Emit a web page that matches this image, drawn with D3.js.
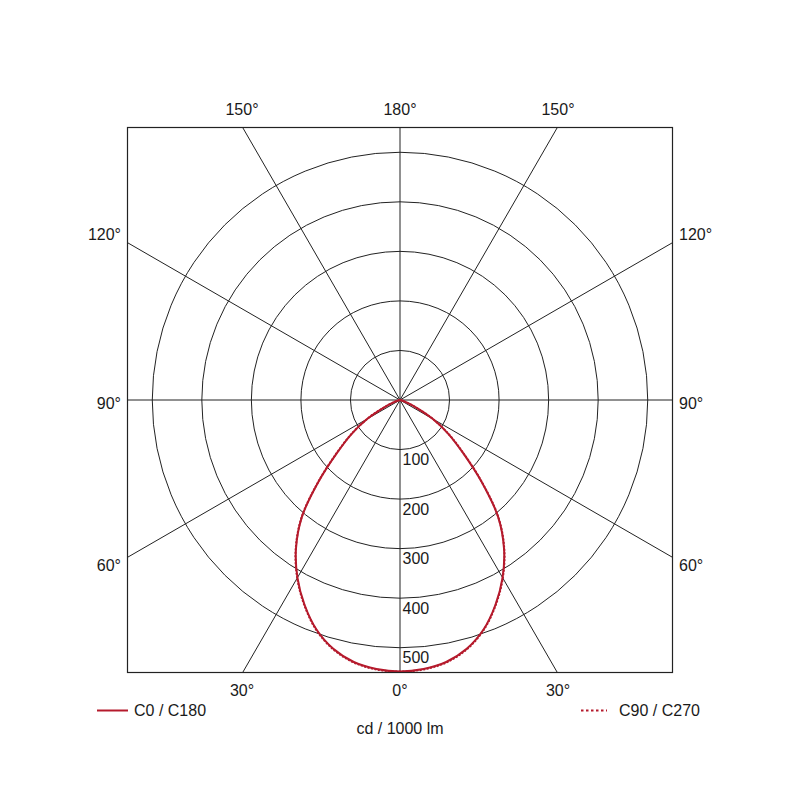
<!DOCTYPE html>
<html>
<head>
<meta charset="utf-8">
<script src="https://cdn.jsdelivr.net/npm/d3@7"></script>
<style>
  body { margin: 0; background: #fff; }
  text { font-family: "Liberation Sans", Arial, sans-serif; fill: #1a1a1a; }
</style>
</head>
<body>
<svg id="chart" width="800" height="800"></svg>
<script>
// gamma angles (deg, 0 = straight down) and intensities in cd / 1000 lm
const angles = [0, 5, 10, 15, 20, 25, 30, 35, 40, 45, 50, 55, 60, 65, 70, 75, 80, 85, 90]
const c0 = [548, 545, 537, 520, 493, 456, 414, 366, 308, 232, 166, 119, 76, 36, 13, 4, 1, 0, 0]
const c180 = [548, 545, 537, 520, 493, 456, 414, 366, 308, 232, 166, 119, 76, 36, 13, 4, 1, 0, 0]
const c90 = [548, 546, 538, 521, 494, 457, 415, 367, 309, 233, 167, 120, 77, 37, 13, 4, 1, 0, 0]
const c270 = [548, 546, 538, 521, 494, 457, 415, 367, 309, 233, 167, 120, 77, 37, 13, 4, 1, 0, 0]

const ringValues = [100, 200, 300, 400, 500]
const spokeAngles = [0, 30, 60, 90, 120, 150]

const redColor = "#b51a2c"

let svg = d3.select("#chart")

let frame = { left: 127.5, top: 127.5, size: 545 }
let cx = frame.left + frame.size / 2
let cy = frame.top + frame.size / 2

// frame edge = 550 cd
let r = d3.scaleLinear().domain([0, 550]).range([0, frame.size / 2])

svg.append("defs").append("clipPath")
    .attr("id", "frameclip")
    .append("rect")
    .attr("x", frame.left)
    .attr("y", frame.top)
    .attr("width", frame.size)
    .attr("height", frame.size)

let grid = svg.append("g")
    .attr("clip-path", "url(#frameclip)")

// rings
grid.selectAll("circle.ring")
    .data(ringValues)
    .join("circle")
    .attr("class", "ring")
    .attr("cx", cx)
    .attr("cy", cy)
    .attr("r", d => r(d))
    .attr("fill", "none")
    .attr("stroke", "#222")
    .attr("stroke-width", 1)

// spokes through centre, every 30 deg
grid.selectAll("line.spoke")
    .data(spokeAngles)
    .join("line")
    .attr("class", "spoke")
    .attr("x1", d => cx - 600 * Math.sin(d * Math.PI / 180))
    .attr("y1", d => cy + 600 * Math.cos(d * Math.PI / 180))
    .attr("x2", d => cx + 600 * Math.sin(d * Math.PI / 180))
    .attr("y2", d => cy - 600 * Math.cos(d * Math.PI / 180))
    .attr("stroke", "#222")
    .attr("stroke-width", 1)

// ring value labels
svg.selectAll("text.ringlabel")
    .data(ringValues)
    .join("text")
    .attr("class", "ringlabel")
    .attr("x", cx + 2.5)
    .attr("y", d => cy + r(d) + 15.5)
    .attr("font-size", 16)
    .text(d => d)

// curves: left half uses C0 / C90, right half C180 / C270
function halfPoints(left, right) {
    let pts = []
    for (let i = angles.length - 1; i >= 0; i--) pts.push([Math.PI + angles[i] * Math.PI / 180, r(left[i])])
    for (let i = 1; i < angles.length; i++) pts.push([Math.PI - angles[i] * Math.PI / 180, r(right[i])])
    return pts
}

let radial = d3.lineRadial()
    .angle(d => d[0])
    .radius(d => d[1])
    .curve(d3.curveCatmullRom)

let curves = svg.append("g")
    .attr("transform", "translate(" + cx + "," + cy + ")")

curves.append("path")
    .attr("d", radial(halfPoints(c90, c270)))
    .attr("fill", "none")
    .attr("stroke", redColor)
    .attr("stroke-width", 2)
    .attr("stroke-dasharray", "2,1.5")

curves.append("path")
    .attr("d", radial(halfPoints(c0, c180)))
    .attr("fill", "none")
    .attr("stroke", redColor)
    .attr("stroke-width", 2)

// frame
svg.append("rect")
    .attr("x", frame.left)
    .attr("y", frame.top)
    .attr("width", frame.size)
    .attr("height", frame.size)
    .attr("fill", "none")
    .attr("stroke", "#222")
    .attr("stroke-width", 1.2)

// angle labels
let topLabels = [["150°", 242], ["180°", 400], ["150°", 558]]
let bottomLabels = [["30°", 242], ["0°", 400], ["30°", 558]]
let sideLabels = [["120°", 240], ["90°", 409], ["60°", 571]]

svg.selectAll("text.toplabel")
    .data(topLabels)
    .join("text")
    .attr("class", "toplabel")
    .attr("x", d => d[1])
    .attr("y", 115)
    .attr("text-anchor", "middle")
    .attr("font-size", 16)
    .text(d => d[0])

svg.selectAll("text.bottomlabel")
    .data(bottomLabels)
    .join("text")
    .attr("class", "bottomlabel")
    .attr("x", d => d[1])
    .attr("y", 696)
    .attr("text-anchor", "middle")
    .attr("font-size", 16)
    .text(d => d[0])

svg.selectAll("text.leftlabel")
    .data(sideLabels)
    .join("text")
    .attr("class", "leftlabel")
    .attr("x", 121)
    .attr("y", d => d[1])
    .attr("text-anchor", "end")
    .attr("font-size", 16)
    .text(d => d[0])

svg.selectAll("text.rightlabel")
    .data(sideLabels)
    .join("text")
    .attr("class", "rightlabel")
    .attr("x", 679)
    .attr("y", d => d[1])
    .attr("text-anchor", "start")
    .attr("font-size", 16)
    .text(d => d[0])

// legend
svg.append("line")
    .attr("x1", 97).attr("x2", 128)
    .attr("y1", 710.5).attr("y2", 710.5)
    .attr("stroke", redColor)
    .attr("stroke-width", 2)

svg.append("text")
    .attr("x", 134)
    .attr("y", 716)
    .attr("font-size", 16)
    .text("C0 / C180")

svg.append("line")
    .attr("x1", 581).attr("x2", 607)
    .attr("y1", 710.5).attr("y2", 710.5)
    .attr("stroke", redColor)
    .attr("stroke-width", 2)
    .attr("stroke-dasharray", "2.5,2.5")

svg.append("text")
    .attr("x", 619)
    .attr("y", 716)
    .attr("font-size", 16)
    .text("C90 / C270")

svg.append("text")
    .attr("x", 400)
    .attr("y", 734)
    .attr("text-anchor", "middle")
    .attr("font-size", 16)
    .text("cd / 1000 lm")
</script>
</body>
</html>
